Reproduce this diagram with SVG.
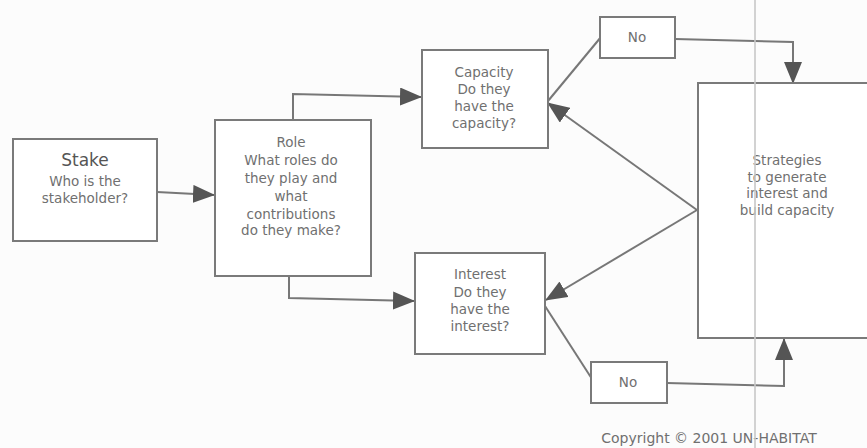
<svg xmlns="http://www.w3.org/2000/svg" width="867" height="448" viewBox="0 0 867 448">
<style>
.box{fill:#ffffff;stroke:#7a7a7a;stroke-width:2}
.t{font-family:"DejaVu Sans",sans-serif;font-size:13.5px;fill:#707070;text-anchor:middle}
.h{font-family:"DejaVu Sans",sans-serif;font-size:17px;fill:#555555;text-anchor:middle}
.c{fill:none;stroke:#777777;stroke-width:2}
</style>
<defs>
<marker id="ah" viewBox="0 0 22 18" refX="21" refY="9" markerWidth="22" markerHeight="18" markerUnits="userSpaceOnUse" orient="auto">
<path d="M0,0 L22,9 L0,18 Z" fill="#555555"/>
</marker>
</defs>
<rect width="867" height="448" fill="#fcfcfc"/>
<g id="connectors">
<path class="c" d="M157,192 L214,195" marker-end="url(#ah)"/>
<path class="c" d="M293,120 L293,94 L421,97" marker-end="url(#ah)"/>
<path class="c" d="M289,275 L289,298 L414,301" marker-end="url(#ah)"/>
<path class="c" d="M548,101 L601,37"/>
<path class="c" d="M675,39 L793,42 L793,83" marker-end="url(#ah)"/>
<path class="c" d="M697,210 L548,103" marker-end="url(#ah)"/>
<path class="c" d="M697,210 L546,300" marker-end="url(#ah)"/>
<path class="c" d="M545,306 L592,379"/>
<path class="c" d="M667,383 L784,386 L784,339" marker-end="url(#ah)"/>
</g>
<g id="stake">
<rect class="box" x="13" y="139" width="144" height="102"/>
<text class="h" x="85" y="166">Stake</text>
<text class="t" x="85" y="186">Who is the</text>
<text class="t" x="85" y="203">stakeholder?</text>
</g>
<g id="role">
<rect class="box" x="215" y="120" width="156" height="156"/>
<text class="t" x="291" y="147">Role</text>
<text class="t" x="291" y="165">What roles do</text>
<text class="t" x="291" y="183">they play and</text>
<text class="t" x="291" y="201">what</text>
<text class="t" x="291" y="219">contributions</text>
<text class="t" x="291" y="235">do they make?</text>
</g>
<g id="capacity">
<rect class="box" x="422" y="50" width="126" height="98"/>
<text class="t" x="484" y="77">Capacity</text>
<text class="t" x="484" y="94">Do they</text>
<text class="t" x="484" y="111">have the</text>
<text class="t" x="484" y="128">capacity?</text>
</g>
<g id="interest">
<rect class="box" x="415" y="253" width="130" height="101"/>
<text class="t" x="480" y="279">Interest</text>
<text class="t" x="480" y="297">Do they</text>
<text class="t" x="480" y="314">have the</text>
<text class="t" x="480" y="331">interest?</text>
</g>
<g id="no-top">
<rect class="box" x="600" y="17" width="75" height="41"/>
<text class="t" x="637" y="42">No</text>
</g>
<g id="no-bottom">
<rect class="box" x="591" y="362" width="76" height="41"/>
<text class="t" x="628" y="387">No</text>
</g>
<g id="strategies">
<rect class="box" x="698" y="83" width="200" height="255"/>
<text class="t" x="787" y="165">Strategies</text>
<text class="t" x="787" y="182">to generate</text>
<text class="t" x="787" y="198">interest and</text>
<text class="t" x="787" y="215">build capacity</text>
</g>
<text class="t" x="709" y="443" style="font-size:14px">Copyright © 2001 UN-HABITAT</text>
<line x1="755" y1="0" x2="755" y2="448" stroke="#c8c8c8" stroke-width="2" opacity="0.8"/>
</svg>
